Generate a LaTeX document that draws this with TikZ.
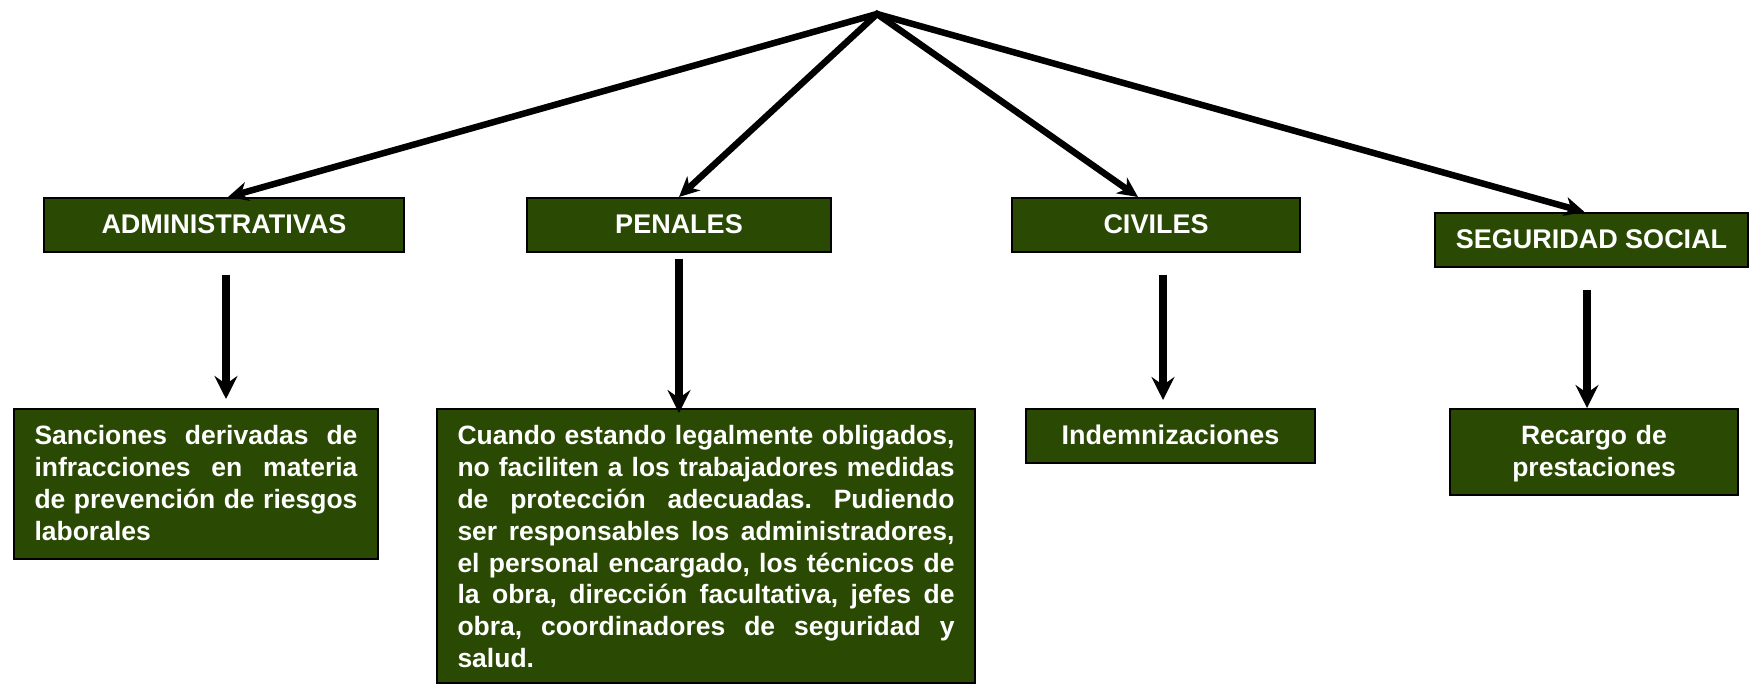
\documentclass[tikz,border=0pt]{standalone}
\usepackage{fontspec}
\setmainfont{Liberation Sans}
\usetikzlibrary{arrows.meta,calc}
\definecolor{boxgreen}{RGB}{42,73,2}
\setlength{\parindent}{0pt}
\hyphenpenalty=10000
\exhyphenpenalty=10000
\frenchspacing
\begin{document}
\begin{tikzpicture}[x=1pt,y=-1pt,
  box/.style={draw=black, line width=2pt, fill=boxgreen, text=white,
    font=\bfseries\fontsize{26.5}{31.8}\selectfont\frenchspacing, inner sep=0pt,
    anchor=north west, text height=36pt},
  onebox/.style={box, text depth=18pt, font=\bfseries\fontsize{27}{31.8}\selectfont},
  diag/.style={line width=6.5pt, line join=miter,
    {Stealth[length=20pt,width=19pt,inset=6pt]}-{Stealth[length=20pt,width=19pt,inset=6pt]}},
  varrow/.style={line width=7.5pt, -{Stealth[length=23pt,width=23pt,inset=8pt]}}
]
\useasboundingbox (0,0) rectangle (1749,684);

% top row
\node[onebox, minimum width=360pt] (adm) at (43,197) {ADMINISTRATIVAS};
\node[onebox, minimum width=304pt] (pen) at (526,197) {PENALES};
\node[onebox, minimum width=288pt] (civ) at (1011,197) {CIVILES};
\node[onebox, minimum width=313pt] (seg) at (1434,212) {SEGURIDAD SOCIAL};

% bottom row
\node[box, text width=323pt, inner xsep=20.5pt, text depth=114pt, align=justify] (san) at (13,408)
  {Sanciones derivadas de\linebreak infracciones en materia\linebreak de prevención de riesgos\linebreak laborales};
\node[box, text width=497pt, inner xsep=20.5pt, text depth=238pt, align=justify] (cua) at (436,408)
  {Cuando estando legalmente obligados,\linebreak no faciliten a los trabajadores medidas\linebreak de protección adecuadas. Pudiendo\linebreak ser responsables los administradores,\linebreak el personal encargado, los técnicos de\linebreak la obra, dirección facultativa, jefes de\linebreak obra, coordinadores de seguridad y\linebreak salud.};
\node[onebox, minimum width=289pt] (ind) at (1025,408) {Indemnizaciones};
\node[box, text width=268pt, inner xsep=10pt, text depth=50pt, align=center] (rec) at (1449,408)
  {Recargo de\\prestaciones};

% diagonal connectors from the apex
\coordinate (apex) at (877,14);
\draw[diag] ($(adm.north)+(4,0)$) -- (apex) -- ($(seg.north)+(-7,0)$);
\draw[diag] (pen.north) -- (apex) -- ($(civ.north)+(-18,0)$);

% vertical connectors
\coordinate (v1) at ($(adm.south)+(2,22)$);
\coordinate (v2) at ($(pen.south)+(0,6)$);
\coordinate (v3) at ($(civ.south)+(7,22)$);
\coordinate (v4) at ($(seg.south)+(-4.5,22)$);
\draw[varrow, shorten >=9pt] (v1) -- (v1 |- san.north);
\draw[varrow, shorten >=-5pt] (v2) -- (v2 |- cua.north);
\draw[varrow, shorten >=8pt] (v3) -- (v3 |- ind.north);
\draw[varrow] (v4) -- (v4 |- rec.north);
\end{tikzpicture}
\end{document}
